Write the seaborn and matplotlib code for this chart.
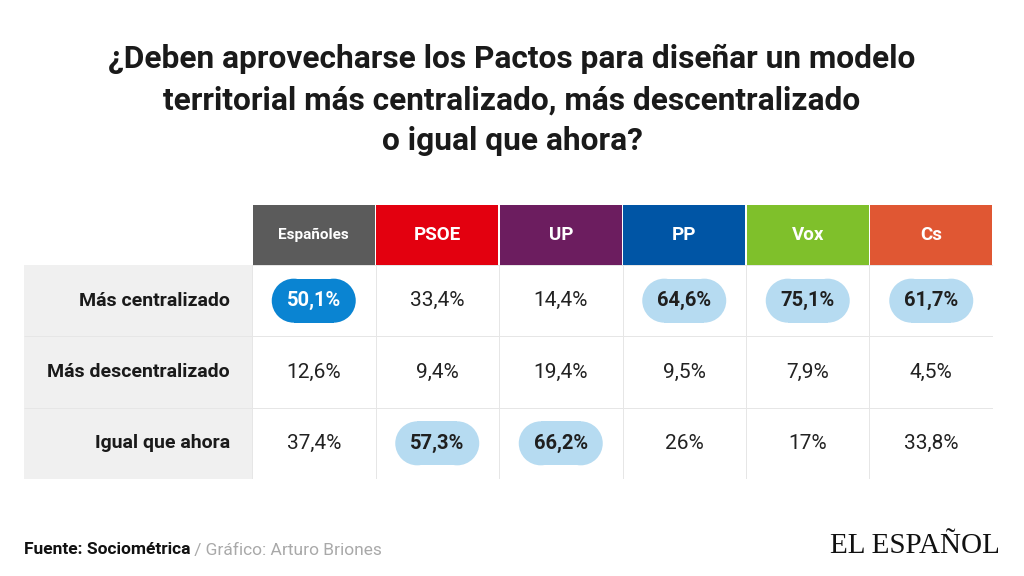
import matplotlib

matplotlib.use("Agg")

import matplotlib.pyplot as plt
import numpy as np
import pandas as pd
import seaborn as sns
from matplotlib.colors import ListedColormap
from matplotlib.patches import Circle, Rectangle
from matplotlib.transforms import IdentityTransform

TITLE = (
    "¿Deben aprovecharse los Pactos para diseñar un modelo\n"
    "territorial más centralizado, más descentralizado\n"
    "o igual que ahora?"
)
groups = ["Españoles", "PSOE", "UP", "PP", "Vox", "Cs"]
group_colors = ["#5b5b5b", "#e3000f", "#6c1d5f", "#0055a5", "#7fc02b", "#e05733"]
answers = ["Más centralizado", "Más descentralizado", "Igual que ahora"]
centralizado = [50.1, 33.4, 14.4, 64.6, 75.1, 61.7]
descentralizado = [12.6, 9.4, 19.4, 9.5, 7.9, 4.5]
igual = [37.4, 57.3, 66.2, 26, 17, 33.8]

SOURCE = "Fuente: Sociométrica"
CREDIT = " / Gráfico: Arturo Briones"
LOGO = "EL ESPAÑOL"


def fmt(v: float) -> str:
    return f"{v:g}".replace(".", ",") + "%"


def add_pill(ax, cx, cy, w, h, color):
    # pill in pixel space: a rectangle capped by two circles
    r = h / 2
    kw = dict(transform=IdentityTransform(), facecolor=color, edgecolor="none", lw=0, clip_on=False, zorder=3)
    ax.add_patch(Rectangle((cx - w / 2 + r, cy - r), w - 2 * r, h, **kw))
    ax.add_patch(Circle((cx - w / 2 + r, cy), r, **kw))
    ax.add_patch(Circle((cx + w / 2 - r, cy), r, **kw))


df = pd.DataFrame([centralizado, descentralizado, igual], index=answers, columns=groups)

sns.set_theme(style="white")
plt.rcParams["font.family"] = ["Roboto", "DejaVu Sans"]

fig = plt.figure(figsize=(10.24, 5.76), dpi=100)
fig.patch.set_facecolor("white")

# table axes: label column + 6 data columns, header row above the 3 rows
W, H = 1024, 576
left_px, right_px, top_px, bottom_px = 24, 993, 205, 479
ax = fig.add_axes([left_px / W, 1 - bottom_px / H, (right_px - left_px) / W, (bottom_px - top_px) / H])

sns.heatmap(
    df,
    cmap=ListedColormap(["white"]),
    cbar=False,
    linewidths=0.7,
    linecolor="#e6e6e6",
    ax=ax,
)

col_px = (right_px - 252) / len(groups)
row_px = (bottom_px - 265) / len(answers)
label_w = (252 - left_px) / col_px
header_h = (265 - top_px) / row_px

ax.set_xlim(-label_w, len(groups))
ax.set_ylim(len(answers), -header_h)
ax.set_xticks([])
ax.set_yticks([])
ax.set_xlabel("")
ax.set_ylabel("")
for s in ax.spines.values():
    s.set_visible(False)

# row label column
ax.add_patch(Rectangle((-label_w, 0), label_w, len(answers), color="#f0f0f0", zorder=0, lw=0))
ax.hlines(range(1, len(answers)), -label_w, 0, color="#e6e6e6", lw=0.7)
for i, name in enumerate(answers):
    ax.text(-0.18, i + 0.5, name, ha="right", va="center", fontsize=14, fontweight="bold", color="#1a1a1a")

# header cells
for j, (name, c) in enumerate(zip(groups, group_colors)):
    ax.add_patch(Rectangle((j + 0.008, -header_h), 0.984, header_h, color=c, lw=0, clip_on=False))
    ax.text(
        j + 0.5, -header_h / 2, name, ha="center", va="center", color="white",
        fontsize=11 if j == 0 else 13.5, fontweight="bold",
    )

# values, with pills for the winning answer of each group
top = df.values.argmax(axis=0)
pill_w, pill_h = 84, 44
for i in range(len(answers)):
    for j in range(len(groups)):
        v = df.iat[i, j]
        x, y = j + 0.5, i + 0.5
        if top[j] == i:
            cx, cy = ax.transData.transform((x, y))
            add_pill(ax, cx, cy, pill_w, pill_h, "#0a84d2" if j == 0 else "#b6dbf1")
            ax.text(x, y, fmt(v), ha="center", va="center", fontsize=14.5, fontweight="bold",
                    color="white" if j == 0 else "#1f1f1f", zorder=4)
        else:
            ax.text(x, y, fmt(v), ha="center", va="center", fontsize=15, color="#222222", zorder=4)

fig.text(0.5, 1 - 100 / H, TITLE, ha="center", va="center", fontsize=22.8, fontweight="bold",
         color="#1a1a1a", linespacing=1.45)

src = fig.text(left_px / W, 1 - 550 / H, SOURCE, ha="left", va="center", fontsize=12.5,
               fontweight="bold", color="#111111")
fig.add_artist(
    plt.Annotation(CREDIT, xy=(1, 0), xycoords=src, va="bottom", ha="left", fontsize=12.5, color="#a9a9a9")
)
fig.text(1000 / W, 1 - 546 / H, LOGO, ha="right", va="center", fontsize=21,
         family="Liberation Serif", color="#111111")

fig.savefig("out.png", dpi=100)
